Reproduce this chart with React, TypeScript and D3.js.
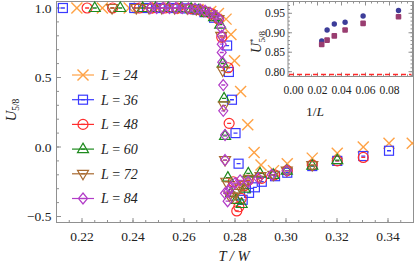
import React from 'react';
import * as d3 from 'd3';

// main panel: U_{5/8} vs T/W for each L
const sizes = [24, 36, 48, 60, 72, 84];

const t24 = [0.218, 0.228, 0.2385, 0.2495, 0.2595, 0.2655, 0.2705, 0.2735, 0.2765, 0.2784, 0.2798, 0.2822, 0.285, 0.2875, 0.2902, 0.2951, 0.3005, 0.3103, 0.3201, 0.3303, 0.3404, 0.3495];
const u24 = [1.0, 1.0, 1.0, 1.0, 0.997, 0.99, 0.975, 0.96, 0.92, 0.81, 0.62, 0.40, 0.16, -0.04, -0.13, -0.17, -0.12, -0.08, -0.045, 0.0, 0.027, 0.027];

const t36 = [0.2125, 0.2405, 0.2455, 0.2505, 0.2555, 0.2605, 0.2645, 0.268, 0.2718, 0.2769, 0.2776, 0.2788, 0.2802, 0.2814, 0.283, 0.2855, 0.2878, 0.2905, 0.2957, 0.3005, 0.3103, 0.3201, 0.3303, 0.3404];
const u36 = [1.0, 1.0, 1.0, 1.0, 1.0, 0.997, 0.99, 0.97, 0.93, 0.73, 0.54, 0.34, 0.10, -0.12, -0.38, -0.33, -0.29, -0.25, -0.21, -0.185, -0.137, -0.10, -0.065, -0.027];

const t48 = [0.222, 0.232, 0.2425, 0.2475, 0.2525, 0.2575, 0.2625, 0.2665, 0.2705, 0.2735, 0.2748, 0.2773, 0.2777, 0.2793, 0.2807, 0.2815, 0.2824, 0.2835, 0.2852, 0.2905, 0.2955, 0.3005, 0.3103, 0.3201, 0.3303];
const u48 = [1.0, 1.0, 1.0, 1.0, 1.0, 0.999, 0.995, 0.985, 0.96, 0.92, 0.79, 0.57, 0.17, -0.25, -0.46, -0.43, -0.37, -0.28, -0.24, -0.225, -0.2, -0.17, -0.13, -0.1, -0.075];

const t60 = [0.225, 0.235, 0.2438, 0.2488, 0.2538, 0.2588, 0.2628, 0.2658, 0.2688, 0.2718, 0.2742, 0.2752, 0.2757, 0.2761, 0.2772, 0.2785, 0.2805, 0.2826, 0.2838, 0.2852, 0.2898, 0.295, 0.3003, 0.3103, 0.3201];
const u60 = [1.0, 1.0, 1.0, 1.0, 1.0, 0.999, 0.995, 0.985, 0.965, 0.935, 0.88, 0.6, 0.35, 0.08, -0.22, -0.33, -0.38, -0.41, -0.3, -0.19, -0.19, -0.2, -0.17, -0.135, -0.095];

const t72 = [0.2318, 0.2413, 0.2463, 0.2513, 0.2563, 0.2613, 0.2648, 0.2678, 0.2708, 0.2735, 0.2746, 0.2752, 0.2757, 0.2761, 0.2766, 0.2778, 0.279, 0.2805, 0.282, 0.2835, 0.2855, 0.29, 0.295, 0.3003, 0.3103];
const u72 = [1.0, 1.0, 1.0, 1.0, 1.0, 0.998, 0.992, 0.98, 0.955, 0.92, 0.8, 0.55, 0.3, -0.094, -0.25, -0.35, -0.36, -0.33, -0.29, -0.27, -0.23, -0.21, -0.2, -0.17, -0.13];

const t84 = [0.2468, 0.2493, 0.2518, 0.2543, 0.2568, 0.2593, 0.2618, 0.2643, 0.2663, 0.2683, 0.2703, 0.2723, 0.2738, 0.2745, 0.2748, 0.2748, 0.2748, 0.275, 0.2754, 0.2754, 0.2761, 0.2761, 0.2761, 0.2771, 0.2774, 0.2784, 0.28, 0.282, 0.2852, 0.2891, 0.2944, 0.3003];
const u84 = [1.0, 1.0, 1.0, 1.0, 1.0, 1.0, 0.998, 0.995, 0.99, 0.98, 0.965, 0.945, 0.92, 0.86, 0.80, 0.74, 0.68, 0.61, 0.446, 0.26, 0.086, -0.094, -0.333, -0.39, -0.32, -0.29, -0.26, -0.24, -0.25, -0.225, -0.2, -0.17];

const xTicks = [0.22, 0.24, 0.26, 0.28, 0.30, 0.32, 0.34];
const yTicks = [-0.5, 0.0, 0.5, 1.0];

// inset: U*_{5/8} vs 1/L
const invL = [0.0235, 0.028, 0.034, 0.043, 0.058, 0.0875];
const uStarA = [0.879, 0.907, 0.9225, 0.927, 0.943, 0.957];
const uStarB = [0.870, 0.881, 0.892, 0.907, 0.924, 0.941];
const uLimit = 0.7925;
const insetXTicks = [0.0, 0.02, 0.04, 0.06, 0.08];
const insetYTicks = [0.80, 0.85, 0.90, 0.95];

const seriesT = [t24, t36, t48, t60, t72, t84];
const seriesU = [u24, u36, u48, u60, u72, u84];
const colors = ['#ffa245', '#3a3aff', '#ff2d2d', '#1e8a1e', '#a86a30', '#b23cc8'];
const shapes = ['cross', 'square', 'circle', 'up', 'down', 'diamond'];

const FONT = '"Liberation Serif", "Times New Roman", serif';
const AX = '#909090';

function Marker({ shape, x, y, color }: { shape: string; x: number; y: number; color: string }) {
  const sw = 1.2;
  const dash = <line x1={x - 2} x2={x + 2} y1={y} y2={y} stroke={color} strokeWidth={1.3} />;
  if (shape === 'cross') {
    return (
      <g stroke={color} strokeWidth={1.4}>
        <line x1={x - 5.5} y1={y - 5.5} x2={x + 5.5} y2={y + 5.5} />
        <line x1={x - 5.5} y1={y + 5.5} x2={x + 5.5} y2={y - 5.5} />
      </g>
    );
  }
  let el;
  if (shape === 'square') el = <rect x={x - 4.5} y={y - 4.5} width={9} height={9} />;
  else if (shape === 'circle') el = <circle cx={x} cy={y} r={5} />;
  else if (shape === 'up') el = <polygon points={`${x},${y - 6} ${x + 5.5},${y + 3.5} ${x - 5.5},${y + 3.5}`} />;
  else if (shape === 'down') el = <polygon points={`${x},${y + 6} ${x + 5.5},${y - 3.5} ${x - 5.5},${y - 3.5}`} />;
  else el = <polygon points={`${x},${y - 5.5} ${x + 4.5},${y} ${x},${y + 5.5} ${x - 4.5},${y}`} />;
  return (
    <g>
      <g fill="none" stroke={color} strokeWidth={sw}>{el}</g>
      {dash}
    </g>
  );
}

export default function App() {
  const W = 415, H = 265;
  const left = 56.5, right = 413.5, top = 1.5, bottom = 222.5;
  const x = d3.scaleLinear().domain([0.21, 0.35]).range([left, right]);
  const y = d3.scaleLinear().domain([-0.5, 1.0]).range([216.5, 8]);

  const xMinor = d3.range(0.21, 0.3501, 0.005);
  const yMinor = d3.range(-0.5, 1.0001, 0.1);

  // inset geometry
  const iL = 288, iR = 412.5, iT = 1.5, iB = 76.5;
  const ix = d3.scaleLinear().domain([0, 0.08]).range([293.5, 389.5]);
  const iy = d3.scaleLinear().domain([0.80, 0.95]).range([71.7, 13.3]);
  const ixMinor = d3.range(-0.0, 0.0966, 0.005);
  const iyMinor = d3.range(0.79, 0.9801, 0.01);

  const legendY = [75, 99.7, 124.4, 149.1, 173.8, 198.5];

  return (
    <svg width={W} height={H} style={{ position: 'fixed', left: 0, top: 0, background: '#fff' }} fontFamily={FONT}>
      <defs>
        <clipPath id="plotclip">
          <rect x={left} y={top - 6} width={right - left} height={bottom - top + 6} />
        </clipPath>
      </defs>

      {/* frame */}
      <rect x={left} y={top} width={right - left} height={bottom - top} fill="none" stroke={AX} strokeWidth={1} />
      {xMinor.map((t, i) => (
        <line key={'xm' + i} x1={x(t)} x2={x(t)} y1={bottom} y2={bottom - 2.5} stroke={AX} />
      ))}
      {xTicks.map(t => (
        <g key={'xt' + t}>
          <line x1={x(t)} x2={x(t)} y1={bottom} y2={bottom - 4.5} stroke={AX} />
          <text x={x(t)} y={240.5} fontSize={13.5} textAnchor="middle" fill="#222">{t.toFixed(2)}</text>
        </g>
      ))}
      {yMinor.map((u, i) => (
        <line key={'ym' + i} x1={left} x2={left + 2.5} y1={y(u)} y2={y(u)} stroke={AX} />
      ))}
      {yTicks.map(u => (
        <g key={'yt' + u}>
          <line x1={left} x2={left + 4.5} y1={y(u)} y2={y(u)} stroke={AX} />
          <text x={51.5} y={y(u) + 4.5} fontSize={13.5} textAnchor="end" fill="#222">
            {(u < 0 ? '\u2212' : '') + Math.abs(u).toFixed(1)}
          </text>
        </g>
      ))}

      {/* axis titles */}
      <text transform="translate(16,110) rotate(-90)" fontSize={14.5} textAnchor="middle" fill="#222">
        <tspan fontStyle="italic">U</tspan>
        <tspan fontSize={9.5} dy={3}>5/8</tspan>
      </text>
      <text x={234} y={261} fontSize={14.5} textAnchor="middle" fill="#222" fontStyle="italic">T / W</text>

      {/* data */}
      <g clipPath="url(#plotclip)">
        {seriesT.map((ts, s) =>
          ts.map((t, i) => (
            <Marker key={s + '-' + i} shape={shapes[s]} x={x(t)} y={y(seriesU[s][i])} color={colors[s]} />
          ))
        )}
      </g>

      {/* legend */}
      {sizes.map((L, s) => (
        <g key={'lg' + L}>
          <line x1={72} x2={94} y1={legendY[s]} y2={legendY[s]} stroke={colors[s]} strokeWidth={1.2} />
          <Marker shape={shapes[s]} x={83} y={legendY[s]} color={colors[s]} />
          <text x={101} y={legendY[s] + 4.8} fontSize={14} fill="#222">
            <tspan fontStyle="italic">L</tspan> = <tspan fontStyle="italic">{L}</tspan>
          </text>
        </g>
      ))}

      {/* inset */}
      <rect x={iL} y={iT} width={iR - iL} height={iB - iT} fill="#fff" stroke={AX} strokeWidth={1} />
      {ixMinor.map((v, i) => (
        <g key={'ixm' + i}>
          <line x1={ix(v)} x2={ix(v)} y1={iB} y2={iB - 2} stroke={AX} />
          <line x1={ix(v)} x2={ix(v)} y1={iT} y2={iT + 2} stroke={AX} />
        </g>
      ))}
      {insetXTicks.map(v => (
        <g key={'ixt' + v}>
          <line x1={ix(v)} x2={ix(v)} y1={iB} y2={iB - 4} stroke={AX} />
          <line x1={ix(v)} x2={ix(v)} y1={iT} y2={iT + 4} stroke={AX} />
          <text x={ix(v)} y={94} fontSize={11.5} textAnchor="middle" fill="#222">{v.toFixed(2)}</text>
        </g>
      ))}
      {iyMinor.map((v, i) => (
        <g key={'iym' + i}>
          <line x1={iL} x2={iL + 2} y1={iy(v)} y2={iy(v)} stroke={AX} />
          <line x1={iR} x2={iR - 2} y1={iy(v)} y2={iy(v)} stroke={AX} />
        </g>
      ))}
      {insetYTicks.map(v => (
        <g key={'iyt' + v}>
          <line x1={iL} x2={iL + 4} y1={iy(v)} y2={iy(v)} stroke={AX} />
          <line x1={iR} x2={iR - 4} y1={iy(v)} y2={iy(v)} stroke={AX} />
          <text x={iL - 3} y={iy(v) + 4} fontSize={11.5} textAnchor="end" fill="#222">{v.toFixed(2)}</text>
        </g>
      ))}
      <line x1={iL + 1} x2={iR - 1} y1={iy(uLimit)} y2={iy(uLimit)} stroke="#ff2a2a" strokeWidth={1.5} strokeDasharray="5,3" />
      {invL.map((v, i) => (
        <g key={'ip' + i}>
          <circle cx={ix(v)} cy={iy(uStarA[i])} r={2.7} fill="#3d3d99" />
          <rect x={ix(v) - 2.8} y={iy(uStarB[i]) - 2.8} width={5.6} height={5.6} rx={1} fill="#993d70" />
        </g>
      ))}
      <text transform="translate(261,42) rotate(-90)" fontSize={14} textAnchor="middle" fill="#222">
        <tspan fontStyle="italic">U</tspan>
        <tspan fontSize={9} dy={-5}>*</tspan>
        <tspan fontSize={9} dx={-4} dy={9}>5/8</tspan>
      </text>
      <text x={315} y={116} fontSize={13.5} textAnchor="middle" fill="#222">
        1/<tspan fontStyle="italic">L</tspan>
      </text>
    </svg>
  );
}
